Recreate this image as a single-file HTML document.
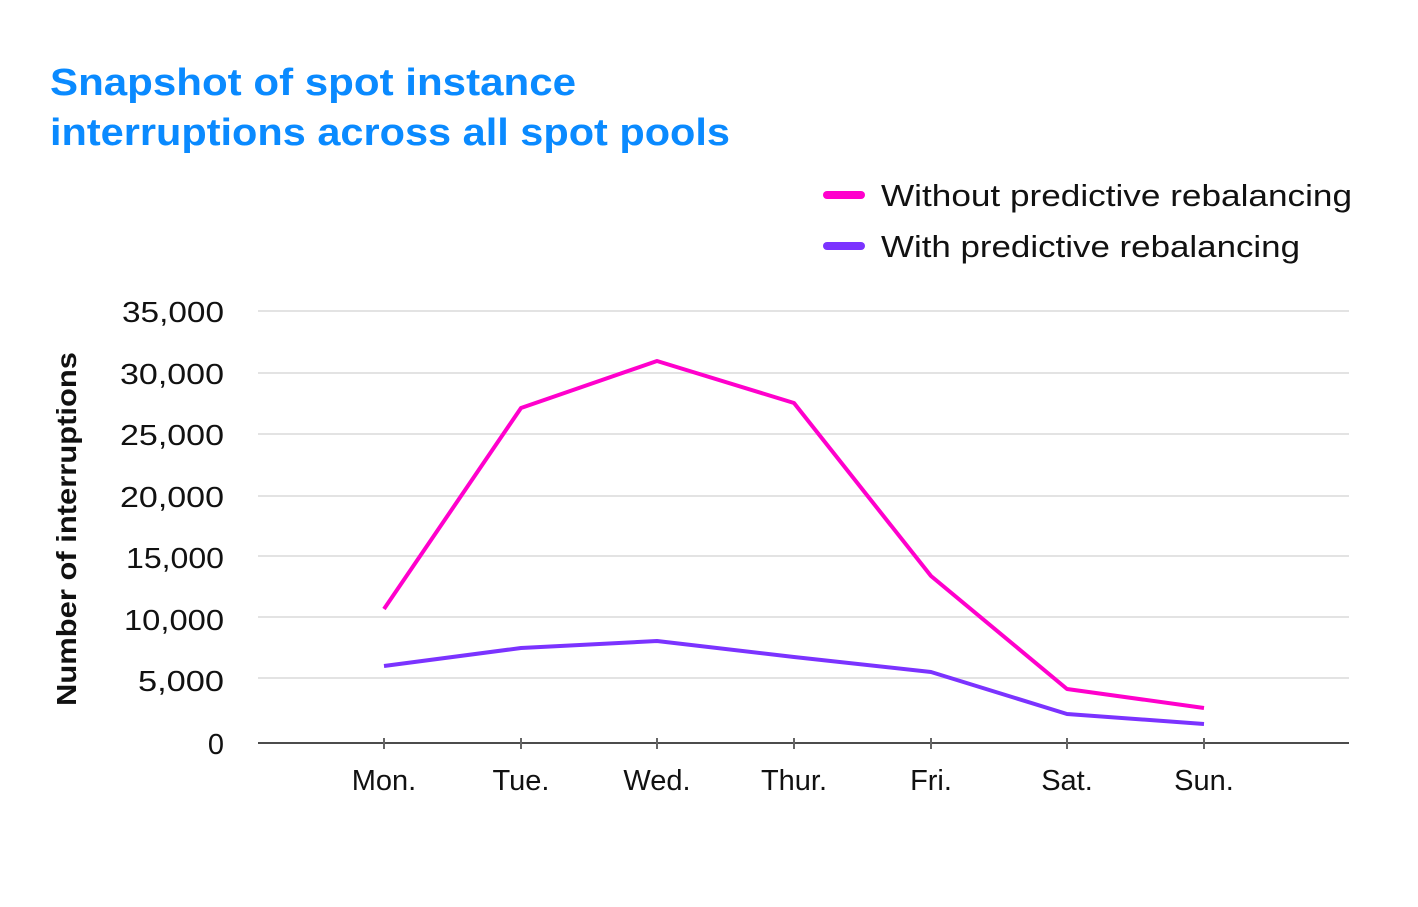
<!DOCTYPE html>
<html><head><meta charset="utf-8"><style>
html,body{margin:0;padding:0;background:#fff;}
svg{display:block;font-family:"Liberation Sans",sans-serif;}
</style></head><body>
<svg width="1418" height="907" viewBox="0 0 1418 907" xmlns="http://www.w3.org/2000/svg">
<text x="50" y="95" font-size="38" font-weight="bold" fill="#0a8aff" textLength="526" lengthAdjust="spacingAndGlyphs">Snapshot of spot instance</text>
<text x="50" y="145" font-size="38" font-weight="bold" fill="#0a8aff" textLength="680" lengthAdjust="spacingAndGlyphs">interruptions across all spot pools</text>
<line x1="827" y1="195" x2="861" y2="195" stroke="#ff00cc" stroke-width="8" stroke-linecap="round"/>
<text x="881" y="206" font-size="31" fill="#111" textLength="471" lengthAdjust="spacingAndGlyphs">Without predictive rebalancing</text>
<line x1="827" y1="246" x2="861" y2="246" stroke="#7b33ff" stroke-width="8" stroke-linecap="round"/>
<text x="881" y="257" font-size="31" fill="#111" textLength="419" lengthAdjust="spacingAndGlyphs">With predictive rebalancing</text>
<g stroke="#e3e3e3" stroke-width="2">
<line x1="258" y1="311" x2="1349" y2="311"/><line x1="258" y1="373" x2="1349" y2="373"/>
<line x1="258" y1="434" x2="1349" y2="434"/><line x1="258" y1="496" x2="1349" y2="496"/>
<line x1="258" y1="556" x2="1349" y2="556"/><line x1="258" y1="617" x2="1349" y2="617"/>
<line x1="258" y1="678" x2="1349" y2="678"/>
</g>
<line x1="258" y1="743" x2="1349" y2="743" stroke="#111" stroke-width="1.5"/>
<g stroke="#666" stroke-width="2">
<line x1="384" y1="738" x2="384" y2="749"/><line x1="521" y1="738" x2="521" y2="749"/>
<line x1="657" y1="738" x2="657" y2="749"/><line x1="794" y1="738" x2="794" y2="749"/>
<line x1="931" y1="738" x2="931" y2="749"/><line x1="1067" y1="738" x2="1067" y2="749"/>
<line x1="1204" y1="738" x2="1204" y2="749"/>
</g>
<g font-size="29" fill="#111" text-anchor="end">
<text x="224" y="322" textLength="102" lengthAdjust="spacingAndGlyphs">35,000</text><text x="224" y="384" textLength="104" lengthAdjust="spacingAndGlyphs">30,000</text>
<text x="224" y="445" textLength="104" lengthAdjust="spacingAndGlyphs">25,000</text><text x="224" y="507" textLength="104" lengthAdjust="spacingAndGlyphs">20,000</text>
<text x="224" y="568" textLength="98" lengthAdjust="spacingAndGlyphs">15,000</text><text x="224" y="630" textLength="100" lengthAdjust="spacingAndGlyphs">10,000</text>
<text x="224" y="691" textLength="86" lengthAdjust="spacingAndGlyphs">5,000</text><text x="224" y="754">0</text>
</g>
<g font-size="29" fill="#111" text-anchor="middle">
<text x="384" y="790">Mon.</text><text x="521" y="790">Tue.</text><text x="657" y="790">Wed.</text>
<text x="794" y="790">Thur.</text><text x="931" y="790">Fri.</text><text x="1067" y="790">Sat.</text>
<text x="1204" y="790">Sun.</text>
</g>
<text transform="translate(76,529) rotate(-90)" font-size="28" font-weight="bold" fill="#111" text-anchor="middle" textLength="354" lengthAdjust="spacingAndGlyphs">Number of interruptions</text>
<polyline fill="none" stroke="#ff00cc" stroke-width="4" stroke-linejoin="round" points="384,609 521,408 657,361 794,403 931,576 1067,689 1204,708"/>
<polyline fill="none" stroke="#7b33ff" stroke-width="4" stroke-linejoin="round" points="384,666 521,648 657,641 794,657 931,672 1067,714 1204,724"/>
</svg>
</body></html>
